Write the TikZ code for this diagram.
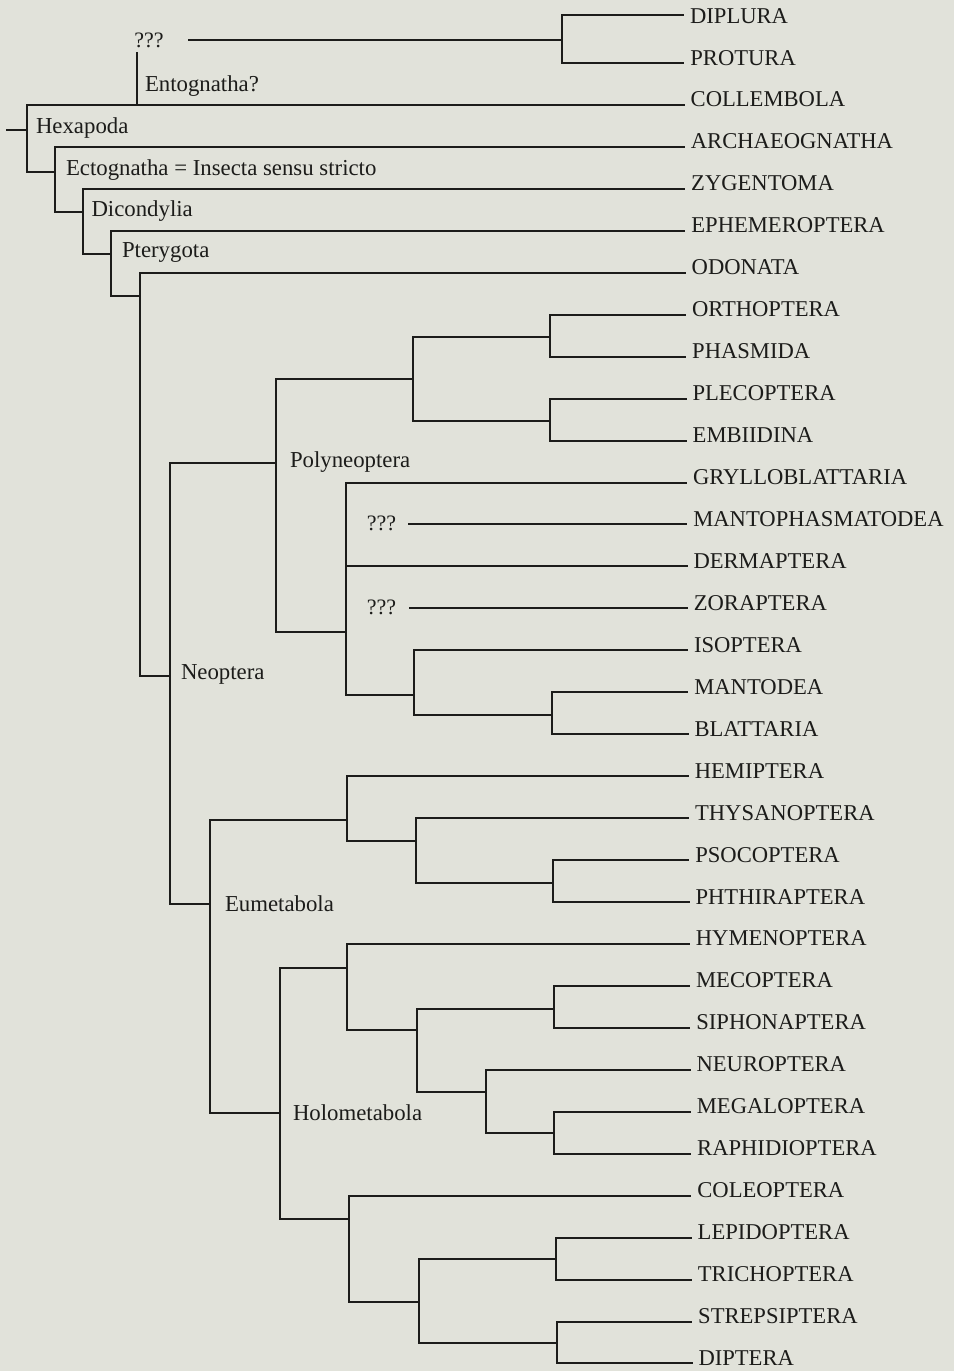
\documentclass[tikz,border=0pt]{standalone}
\usepackage{fontspec}
\setmainfont{Liberation Serif}
\definecolor{paper}{RGB}{225,226,218}
\definecolor{ink}{RGB}{28,28,26}

\begin{document}
\begin{tikzpicture}[x=1pt, y=-1pt, line width=2pt, ink,
	taxon/.style={anchor=base west, inner sep=0pt, font=\fontsize{22.6}{26}\selectfont},
	clade/.style={anchor=west, inner sep=0pt, font=\fontsize{22.8}{26}\selectfont},
	query/.style={inner sep=0pt, font=\fontsize{22}{26}\selectfont}]
	\fill[paper] (0,0) rectangle (954,1371);
	\useasboundingbox (0,0) rectangle (954,1371);

	% ends of the terminal branches
	\coordinate (dipl) at (684.1,15);
	\coordinate (prot) at (684.4,63);
	\coordinate (coll) at (684.7,104.9);
	\coordinate (arch) at (684.9,146.9);
	\coordinate (zyge) at (685.2,188.8);
	\coordinate (ephe) at (685.4,230.8);
	\coordinate (odon) at (685.7,272.7);
	\coordinate (orth) at (686.0,314.7);
	\coordinate (phas) at (686.2,356.6);
	\coordinate (plec) at (686.5,398.6);
	\coordinate (embi) at (686.7,440.5);
	\coordinate (gryl) at (687.0,482.5);
	\coordinate (mant) at (687.3,524.4);
	\coordinate (derm) at (687.5,566.4);
	\coordinate (zora) at (687.8,608.3);
	\coordinate (isop) at (688.0,650.3);
	\coordinate (mtod) at (688.3,692.2);
	\coordinate (blat) at (688.6,734.2);
	\coordinate (hemi) at (688.8,776.1);
	\coordinate (thys) at (689.1,818.1);
	\coordinate (psoc) at (689.3,860.0);
	\coordinate (phth) at (689.6,902.0);
	\coordinate (hyme) at (689.9,943.9);
	\coordinate (meco) at (690.1,985.9);
	\coordinate (siph) at (690.4,1027.8);
	\coordinate (neur) at (690.6,1069.8);
	\coordinate (mega) at (690.9,1111.7);
	\coordinate (raph) at (691.2,1153.7);
	\coordinate (cole) at (691.4,1195.6);
	\coordinate (lepi) at (691.7,1237.6);
	\coordinate (tric) at (691.9,1279.5);
	\coordinate (strp) at (692.2,1321.5);
	\coordinate (dipt) at (692.5,1363.4);

	\node[taxon] (dipl-t) at ([xshift=5pt, yshift=-8pt]dipl) {DIPLURA};
	\node[taxon] (prot-t) at ([xshift=5pt, yshift=-2pt]prot) {PROTURA};
	\node[taxon] (coll-t) at ([xshift=5pt, yshift=-2pt]coll) {COLLEMBOLA};
	\node[taxon] (arch-t) at ([xshift=5pt, yshift=-2pt]arch) {ARCHAEOGNATHA};
	\node[taxon] (zyge-t) at ([xshift=5pt, yshift=-2pt]zyge) {ZYGENTOMA};
	\node[taxon] (ephe-t) at ([xshift=5pt, yshift=-2pt]ephe) {EPHEMEROPTERA};
	\node[taxon] (odon-t) at ([xshift=5pt, yshift=-2pt]odon) {ODONATA};
	\node[taxon] (orth-t) at ([xshift=5pt, yshift=-2pt]orth) {ORTHOPTERA};
	\node[taxon] (phas-t) at ([xshift=5pt, yshift=-2pt]phas) {PHASMIDA};
	\node[taxon] (plec-t) at ([xshift=5pt, yshift=-2pt]plec) {PLECOPTERA};
	\node[taxon] (embi-t) at ([xshift=5pt, yshift=-2pt]embi) {EMBIIDINA};
	\node[taxon] (gryl-t) at ([xshift=5pt, yshift=-2pt]gryl) {GRYLLOBLATTARIA};
	\node[taxon] (mant-t) at ([xshift=5pt, yshift=-2pt]mant) {MANTOPHASMATODEA};
	\node[taxon] (derm-t) at ([xshift=5pt, yshift=-2pt]derm) {DERMAPTERA};
	\node[taxon] (zora-t) at ([xshift=5pt, yshift=-2pt]zora) {ZORAPTERA};
	\node[taxon] (isop-t) at ([xshift=5pt, yshift=-2pt]isop) {ISOPTERA};
	\node[taxon] (mtod-t) at ([xshift=5pt, yshift=-2pt]mtod) {MANTODEA};
	\node[taxon] (blat-t) at ([xshift=5pt, yshift=-2pt]blat) {BLATTARIA};
	\node[taxon] (hemi-t) at ([xshift=5pt, yshift=-2pt]hemi) {HEMIPTERA};
	\node[taxon] (thys-t) at ([xshift=5pt, yshift=-2pt]thys) {THYSANOPTERA};
	\node[taxon] (psoc-t) at ([xshift=5pt, yshift=-2pt]psoc) {PSOCOPTERA};
	\node[taxon] (phth-t) at ([xshift=5pt, yshift=-2pt]phth) {PHTHIRAPTERA};
	\node[taxon] (hyme-t) at ([xshift=5pt, yshift=-2pt]hyme) {HYMENOPTERA};
	\node[taxon] (meco-t) at ([xshift=5pt, yshift=-2pt]meco) {MECOPTERA};
	\node[taxon] (siph-t) at ([xshift=5pt, yshift=-2pt]siph) {SIPHONAPTERA};
	\node[taxon] (neur-t) at ([xshift=5pt, yshift=-2pt]neur) {NEUROPTERA};
	\node[taxon] (mega-t) at ([xshift=5pt, yshift=-2pt]mega) {MEGALOPTERA};
	\node[taxon] (raph-t) at ([xshift=5pt, yshift=-2pt]raph) {RAPHIDIOPTERA};
	\node[taxon] (cole-t) at ([xshift=5pt, yshift=-2pt]cole) {COLEOPTERA};
	\node[taxon] (lepi-t) at ([xshift=5pt, yshift=-2pt]lepi) {LEPIDOPTERA};
	\node[taxon] (tric-t) at ([xshift=5pt, yshift=-2pt]tric) {TRICHOPTERA};
	\node[taxon] (strp-t) at ([xshift=5pt, yshift=-2pt]strp) {STREPSIPTERA};
	\node[taxon] (dipt-t) at ([xshift=5pt, yshift=-2pt]dipt) {DIPTERA};

	% branching points
	\coordinate (base) at (6,130);
	\coordinate (hexa) at (27,130);
	\coordinate (ento) at (137,104.9);
	\coordinate (ento-top) at (137,52);
	\coordinate (q1-end) at (188,40);
	\coordinate (dipr) at (562,40);
	\coordinate (ecto) at (55,172);
	\coordinate (dico) at (83,212);
	\coordinate (pter) at (111,254);
	\coordinate (metap) at (140,296);
	\coordinate (neop) at (170,676);
	\coordinate (polyn) at (276,463);
	\coordinate (orpl) at (413,379);
	\coordinate (orph) at (550,337);
	\coordinate (plem) at (550,421);
	\coordinate (grdi) at (346,632);
	\coordinate (q2-end) at (408,524.4);
	\coordinate (q3-end) at (409,608.3);
	\coordinate (isbl) at (414,695);
	\coordinate (mabl) at (552,715);
	\coordinate (eumet) at (210,904);
	\coordinate (paran) at (347,820);
	\coordinate (thps) at (416,841);
	\coordinate (psph) at (553,883);
	\coordinate (holom) at (280,1113);
	\coordinate (hymg) at (347,968);
	\coordinate (mecg) at (417,1030);
	\coordinate (mesi) at (554,1009);
	\coordinate (neug) at (486,1092);
	\coordinate (megr) at (554,1133);
	\coordinate (colg) at (349,1219);
	\coordinate (lepd) at (419,1302);
	\coordinate (letr) at (556,1259);
	\coordinate (stdi) at (557,1343);

	% clade names
	\node[query] (q1) at (149,40) {???};
	\node[query] (q2) at (381.5,523) {???};
	\node[query] (q3) at (381.5,607) {???};
	\node[clade] (entlab) at (144,86) {Entognatha?};
	\node[clade] (hexlab) at (35,128) {Hexapoda};
	\node[clade] (ectlab) at (65,170) {Ectognatha = Insecta sensu stricto};
	\node[clade] (diclab) at (90.5,211) {Dicondylia};
	\node[clade] (ptelab) at (121,252) {Pterygota};
	\node[clade] (neolab) at (180,674) {Neoptera};
	\node[clade] (polylab) at (289,462) {Polyneoptera};
	\node[clade] (eumlab) at (224,904) {Eumetabola};
	\node[clade] (hollab) at (292,1113) {Holometabola};

	\draw (base) -- (hexa);
	\draw (hexa) |- (coll);
	\draw (hexa) |- (ecto);
	\draw (ento) -- (ento-top);
	\draw (q1-end) -- (dipr);
	\draw (dipr) |- (dipl);
	\draw (dipr) |- (prot);
	\draw (ecto) |- (arch);
	\draw (ecto) |- (dico);
	\draw (dico) |- (zyge);
	\draw (dico) |- (pter);
	\draw (pter) |- (ephe);
	\draw (pter) |- (metap);
	\draw (metap) |- (odon);
	\draw (metap) |- (neop);
	\draw (neop) |- (polyn);
	\draw (neop) |- (eumet);

	\draw (polyn) |- (orpl);
	\draw (polyn) |- (grdi);
	\draw (orpl) |- (orph);
	\draw (orpl) |- (plem);
	\draw (orph) |- (orth);
	\draw (orph) |- (phas);
	\draw (plem) |- (plec);
	\draw (plem) |- (embi);
	\draw (grdi) |- (gryl);
	\draw (grdi) |- (derm);
	\draw (grdi) |- (isbl);
	\draw (q2-end) -- (mant);
	\draw (q3-end) -- (zora);
	\draw (isbl) |- (isop);
	\draw (isbl) |- (mabl);
	\draw (mabl) |- (mtod);
	\draw (mabl) |- (blat);

	\draw (eumet) |- (paran);
	\draw (eumet) |- (holom);
	\draw (paran) |- (hemi);
	\draw (paran) |- (thps);
	\draw (thps) |- (thys);
	\draw (thps) |- (psph);
	\draw (psph) |- (psoc);
	\draw (psph) |- (phth);
	\draw (holom) |- (hymg);
	\draw (holom) |- (colg);
	\draw (hymg) |- (hyme);
	\draw (hymg) |- (mecg);
	\draw (mecg) |- (mesi);
	\draw (mecg) |- (neug);
	\draw (mesi) |- (meco);
	\draw (mesi) |- (siph);
	\draw (neug) |- (neur);
	\draw (neug) |- (megr);
	\draw (megr) |- (mega);
	\draw (megr) |- (raph);
	\draw (colg) |- (cole);
	\draw (colg) |- (lepd);
	\draw (lepd) |- (letr);
	\draw (lepd) |- (stdi);
	\draw (letr) |- (lepi);
	\draw (letr) |- (tric);
	\draw (stdi) |- (strp);
	\draw (stdi) |- (dipt);
\end{tikzpicture}
\end{document}
